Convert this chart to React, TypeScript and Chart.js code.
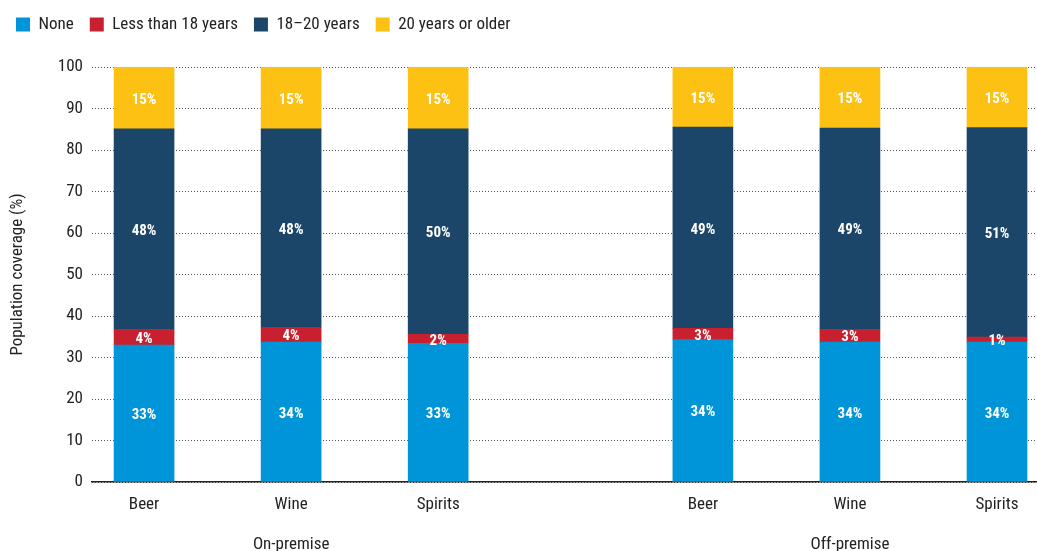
import React, { useEffect, useRef } from "react";
import { Chart, registerables } from "chart.js";

Chart.register(...registerables);

// Category positions along the x axis (gap between the two groups)
const categoryPositions = [0, 1, 2, 3.8, 4.8, 5.8];
const categoryLabels: (string | string[])[] = [
  ["Beer"],
  ["Wine", "", "On-premise"],
  ["Spirits"],
  ["Beer"],
  ["Wine", "", "Off-premise"],
  ["Spirits"],
];

const seriesNames = ["None", "Less than 18 years", "18\u201320 years", "20 years or older"];
const noneValues = [33.0, 33.7, 33.4, 34.3, 33.7, 33.7];
const under18Values = [3.8, 3.6, 2.2, 2.7, 3.1, 1.2];
const age18to20Values = [48.3, 47.8, 49.5, 48.5, 48.5, 50.5];
const over20Values = [14.9, 14.9, 14.9, 14.5, 14.7, 14.6];
const seriesColors = ["#0095d8", "#c8202f", "#1c4669", "#fcc112"];

const yTicks = [0, 10, 20, 30, 40, 50, 60, 70, 80, 90, 100];

const FONT = "'Roboto Condensed', 'Liberation Sans Narrow', sans-serif";

const labelPlugin = {
  id: "segmentLabels",
  afterDatasetsDraw(chart: any) {
    const ctx = chart.ctx;
    ctx.save();
    ctx.font = `bold 15px ${FONT}`;
    ctx.fillStyle = "#ffffff";
    ctx.textAlign = "center";
    ctx.textBaseline = "middle";
    chart.data.datasets.forEach((ds: any, i: number) => {
      const meta = chart.getDatasetMeta(i);
      meta.data.forEach((bar: any, j: number) => {
        const { x, y, base } = bar.getProps(["x", "y", "base"], true);
        const v = ds.data[j].y;
        ctx.fillText(Math.round(v) + "%", x, (y + base) / 2 + 2);
      });
    });
    ctx.restore();
  },
};

export default function App() {
  const canvasRef = useRef<HTMLCanvasElement | null>(null);

  useEffect(() => {
    if (!canvasRef.current) return;
    const series = [noneValues, under18Values, age18to20Values, over20Values];
    const chart = new Chart(canvasRef.current, {
      type: "bar",
      data: {
        datasets: series.map((vals, i) => ({
          label: seriesNames[i],
          data: vals.map((v, j) => ({ x: categoryPositions[j], y: v })),
          backgroundColor: seriesColors[i],
          borderWidth: 0,
          barThickness: 60,
          grouped: false,
        })),
      },
      options: {
        animation: false,
        responsive: true,
        maintainAspectRatio: false,
        layout: { padding: 0 },
        plugins: {
          legend: {
            position: "top",
            align: "start",
            labels: {
              boxWidth: 14,
              boxHeight: 14,
              padding: 16,
              color: "#222",
              font: { family: FONT, size: 17 },
            },
          },
          title: {
            display: true,
            text: "",
            weight: 500,
            padding: { top: 0, bottom: 23 },
            font: { size: 1, lineHeight: 1 },
          },
          tooltip: { enabled: false },
        },
        scales: {
          x: {
            type: "linear",
            offset: false,
            min: -0.354,
            max: 6.072,
            grid: { display: false },
            border: { display: true, color: "#222", width: 1.5 },
            afterBuildTicks: (scale: any) => {
              scale.ticks = categoryPositions.map((v) => ({ value: v }));
            },
            afterFit: (scale: any) => {
              scale.height = 69;
            },
            ticks: {
              autoSkip: false,
              maxRotation: 0,
              padding: 5,
              color: "#222",
              font: { family: FONT, size: 17, lineHeight: "20px" },
              callback: (_v: any, index: number) => categoryLabels[index],
            },
          },
          y: {
            stacked: true,
            min: 0,
            max: 100,
            afterBuildTicks: (scale: any) => {
              scale.ticks = yTicks.map((v) => ({ value: v }));
            },
            afterFit: (scale: any) => {
              scale.width = 92;
            },
            grid: { color: "#555", lineWidth: 1, drawTicks: false },
            border: { display: false, dash: [1, 2] },
            ticks: {
              padding: 9,
              color: "#222",
              font: { family: FONT, size: 17 },
            },
            title: {
              display: true,
              text: "Population coverage (%)",
              color: "#222",
              padding: { top: 8, bottom: 0 },
              font: { family: FONT, size: 17 },
            },
          },
        },
      },
      plugins: [labelPlugin],
    } as any);
    return () => chart.destroy();
  }, []);

  return (
    <div style={{ position: "fixed", left: 0, top: 0, width: 1037, height: 551, background: "#fff" }}>
      <canvas ref={canvasRef} />
    </div>
  );
}
